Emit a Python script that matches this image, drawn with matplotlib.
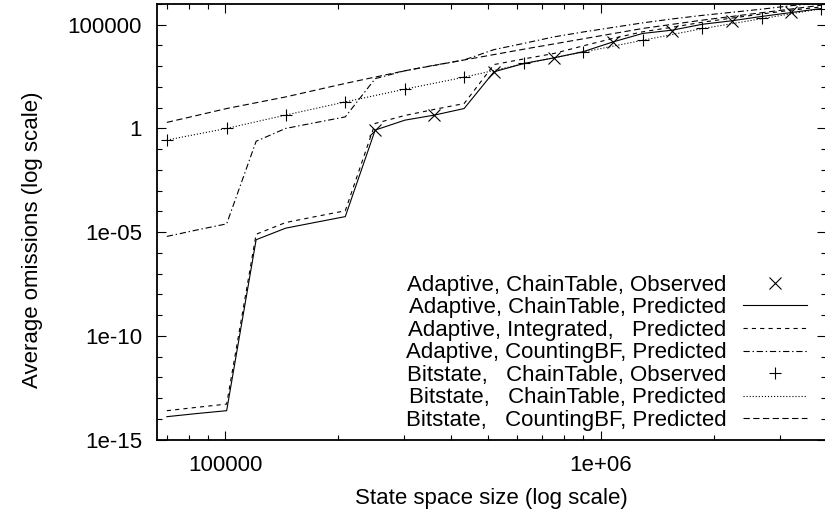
import numpy as np
import matplotlib
matplotlib.use('Agg')
import matplotlib.pyplot as plt
from matplotlib.ticker import FixedLocator, FixedFormatter, LogLocator, NullFormatter

plt.rcParams['font.family'] = ['Liberation Sans', 'DejaVu Sans']
plt.rcParams['font.size'] = 16
plt.rcParams['lines.scale_dashes'] = False

# state space sizes used for the predictions
sizes = [70000, 84000, 101000, 121000, 145000, 174000, 209000, 251000,
         301000, 361000, 433000, 520000, 624000, 749000, 898000, 1078000,
         1294000, 1553000, 1863000, 2236000, 2683000, 3220000, 3864000]
sizes_bit = [70000, 101000, 145000, 209000, 301000, 433000, 624000, 898000,
             1294000, 1863000, 2683000, 3864000]
sizes_adapt_obs = [251000, 361000, 520000, 749000, 1078000, 1553000,
                   2236000, 3220000]

# adaptive runs
adapt_chain_obs = [0.83, 4.38, 535, 2520, 14000, 50600, 153000, 389000]
adapt_chain_pred = [1.26e-14, 1.78e-14, 2.45e-14, 4.3e-6, 1.55e-5, 2.95e-5,
                    5.6e-5, 0.83, 2.5, 4.4, 9.1, 537, 1350, 2510, 5010,
                    14800, 38000, 55000, 105000, 155000, 251000, 389000,
                    603000]
adapt_integ_pred = [2.45e-14, 3.55e-14, 5.1e-14, 7.9e-6, 2.9e-5, 5.6e-5,
                    1.07e-4, 1.74, 4.2, 8.3, 15.8, 1200, 2240, 4070, 9550,
                    21900, 45700, 75900, 132000, 209000, 331000, 501000,
                    724000]
adapt_cbf_pred = [6.2e-6, 1.26e-5, 2.5e-5, 0.24, 1.0, 1.9, 3.6, 251, 603,
                  1120, 2000, 6310, 12600, 25700, 44700, 74100, 123000,
                  191000, 282000, 398000, 562000, 832000, 1120000]

# bitstate runs
bit_chain_obs = [0.273, 1.0, 4.38, 19.1, 78.3, 307, 1360, 4920, 18200,
                 66100, 200000, 603000]
bit_chain_pred = [0.275, 1.0, 4.4, 19, 78, 295, 1320, 4790, 17800, 64600,
                  195000, 589000]
bit_cbf_pred = [1.95, 9.1, 33, 148, 603, 2000, 6610, 20900, 66100, 166000,
                380000, 871000]

labels = ['Adaptive, ChainTable, Observed',
          'Adaptive, ChainTable, Predicted',
          'Adaptive, Integrated,   Predicted',
          'Adaptive, CountingBF, Predicted',
          'Bitstate,   ChainTable, Observed',
          'Bitstate,   ChainTable, Predicted',
          'Bitstate,   CountingBF, Predicted']

xtick_vals = [1e5, 1e6]
xtick_labels = ['100000', '1e+06']
ytick_vals = [1e-15, 1e-10, 1e-5, 1, 1e5]
ytick_labels = ['1e-15', '1e-10', '1e-05', '1', '100000']

fig = plt.figure(figsize=(8.25, 5.12), dpi=100)
ax = fig.add_axes([0.1903, 0.1416, 0.8109, 0.8506])

lw = 0.8
ax.plot(sizes_adapt_obs, adapt_chain_obs, ls='none', marker='x', ms=8,
        mew=0.8, color='black', label=labels[0])
ax.plot(sizes, adapt_chain_pred, color='black', lw=lw, label=labels[1])
ax.plot(sizes, adapt_integ_pred, color='black', lw=lw, dashes=(3, 3),
        label=labels[2])
ax.plot(sizes, adapt_cbf_pred, color='black', lw=lw, dashes=(4.5, 2, 1, 2),
        label=labels[3])
ax.plot(sizes_bit, bit_chain_obs, ls='none', marker='+', ms=9, mew=0.8,
        color='black', label=labels[4])
ax.plot(sizes_bit, bit_chain_pred, color='black', lw=lw, dashes=(0.8, 1.4),
        label=labels[5])
ax.plot(sizes_bit, bit_cbf_pred, color='black', lw=lw, dashes=(4.5, 2.5),
        label=labels[6])

ax.set_xscale('log')
ax.set_yscale('log')
ax.set_xlim(65900, 3.98e6)
ax.set_ylim(1e-15, 1e6)

ax.xaxis.set_major_locator(FixedLocator(xtick_vals))
ax.xaxis.set_major_formatter(FixedFormatter(xtick_labels))
ax.xaxis.set_minor_locator(LogLocator(base=10, subs=np.arange(2, 10)))
ax.xaxis.set_minor_formatter(NullFormatter())
ax.yaxis.set_major_locator(FixedLocator(ytick_vals))
ax.yaxis.set_major_formatter(FixedFormatter(ytick_labels))
ax.yaxis.set_minor_locator(LogLocator(base=10, subs=(1.0,), numticks=50))
ax.yaxis.set_minor_formatter(NullFormatter())

ax.tick_params(which='both', direction='in', top=True, right=True, width=0.8)
ax.tick_params(which='major', length=6.5)
ax.tick_params(which='minor', length=3.6)
ax.tick_params(axis='y', pad=10.8)
ax.tick_params(axis='x', pad=11)
for sp in ax.spines.values():
    sp.set_linewidth(1.3)

ax.set_xlabel('State space size (log scale)')
ax.xaxis.set_label_coords(0.5, -0.111)
ax.set_ylabel('Average omissions (log scale)')
ax.yaxis.set_label_coords(-0.17, 0.458)

ax.legend(loc='center right', bbox_to_anchor=(0.9716, 0.199),
          markerfirst=False, frameon=False, borderpad=0, borderaxespad=0,
          handlelength=2.9, handletextpad=0.73, labelspacing=0.07)

fig.savefig('out.png', dpi=100)
